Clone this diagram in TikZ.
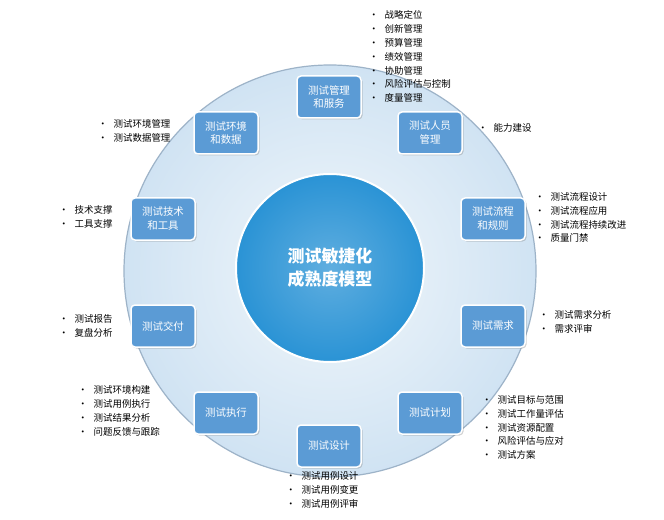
\documentclass[tikz,border=0pt]{standalone}
\usepackage{fontspec}
\setmainfont{Noto Sans CJK SC}
\usetikzlibrary{shadows}
\begin{document}
\begin{tikzpicture}[x=1bp,y=-1bp,
  box/.style={draw=white,line width=1.5bp,fill=boxblue,rounded corners=4bp,minimum width=64bp,minimum height=42bp,text=white,align=center,font=\fontsize{10.5}{14}\selectfont,inner sep=1bp,drop shadow={opacity=0.35,shadow xshift=1.5bp,shadow yshift=-1.5bp}},
  lst/.style={anchor=north west,align=left,font=\fontsize{9.5}{14}\selectfont,inner sep=0pt}]
\definecolor{boxblue}{HTML}{5B9BD5}
\definecolor{coreblue}{HTML}{2A93D5}
\definecolor{ringfill}{HTML}{DDEBF6}
\definecolor{ringline}{HTML}{9DB3C8}
\useasboundingbox (0,0) rectangle (664,520);
\fill[white] (0,0) rectangle (664,520);
\node[circle,draw=ringline,line width=1.2bp,inner color=white!60!ringfill,outer color=ringfill!90!boxblue,minimum size=412bp,inner sep=0] (ring) at (330,271) {};
\node[circle,draw=white,line width=2bp,inner color=coreblue!75!white,outer color=coreblue,minimum size=188bp,inner sep=0,text=white,align=center,font=\bfseries\fontsize{17}{23}\selectfont] (core) at (330,268) {测试敏捷化\\成熟度模型};
\node[box] (b1) at (329,97) {测试管理\\和服务};
\node[box] (b2) at (430,133) {测试人员\\管理};
\node[box] (b3) at (493,219) {测试流程\\和规则};
\node[box] (b4) at (493,326) {测试需求};
\node[box] (b5) at (430,413) {测试计划};
\node[box] (b6) at (329,446) {测试设计};
\node[box] (b7) at (226,413) {测试执行};
\node[box] (b8) at (163,326) {测试交付};
\node[box] (b9) at (163,219) {测试技术\\和工具};
\node[box] (b10) at (226,133) {测试环境\\和数据};
\newcommand{\bi}{\textbullet\hspace{6bp}}
\node[lst] (l1) at (369,10) {\bi 战略定位\\\bi 创新管理\\\bi 预算管理\\\bi 绩效管理\\\bi 协助管理\\\bi 风险评估与控制\\\bi 度量管理};
\node[lst] (l2) at (478,123) {\bi 能力建设};
\node[lst] (l10) at (98,119) {\bi 测试环境管理\\\bi 测试数据管理};
\node[lst] (l9) at (59,205) {\bi 技术支撑\\\bi 工具支撑};
\node[lst] (l3) at (535,192) {\bi 测试流程设计\\\bi 测试流程应用\\\bi 测试流程持续改进\\\bi 质量门禁};
\node[lst] (l4) at (539,310) {\bi 测试需求分析\\\bi 需求评审};
\node[lst] (l8) at (59,314) {\bi 测试报告\\\bi 复盘分析};
\node[lst] (l7) at (78,385) {\bi 测试环境构建\\\bi 测试用例执行\\\bi 测试结果分析\\\bi 问题反馈与跟踪};
\node[lst] (l5) at (482,395) {\bi 测试目标与范围\\\bi 测试工作量评估\\\bi 测试资源配置\\\bi 风险评估与应对\\\bi 测试方案};
\node[lst] (l6) at (286,471) {\bi 测试用例设计\\\bi 测试用例变更\\\bi 测试用例评审};
\end{tikzpicture}
\end{document}
